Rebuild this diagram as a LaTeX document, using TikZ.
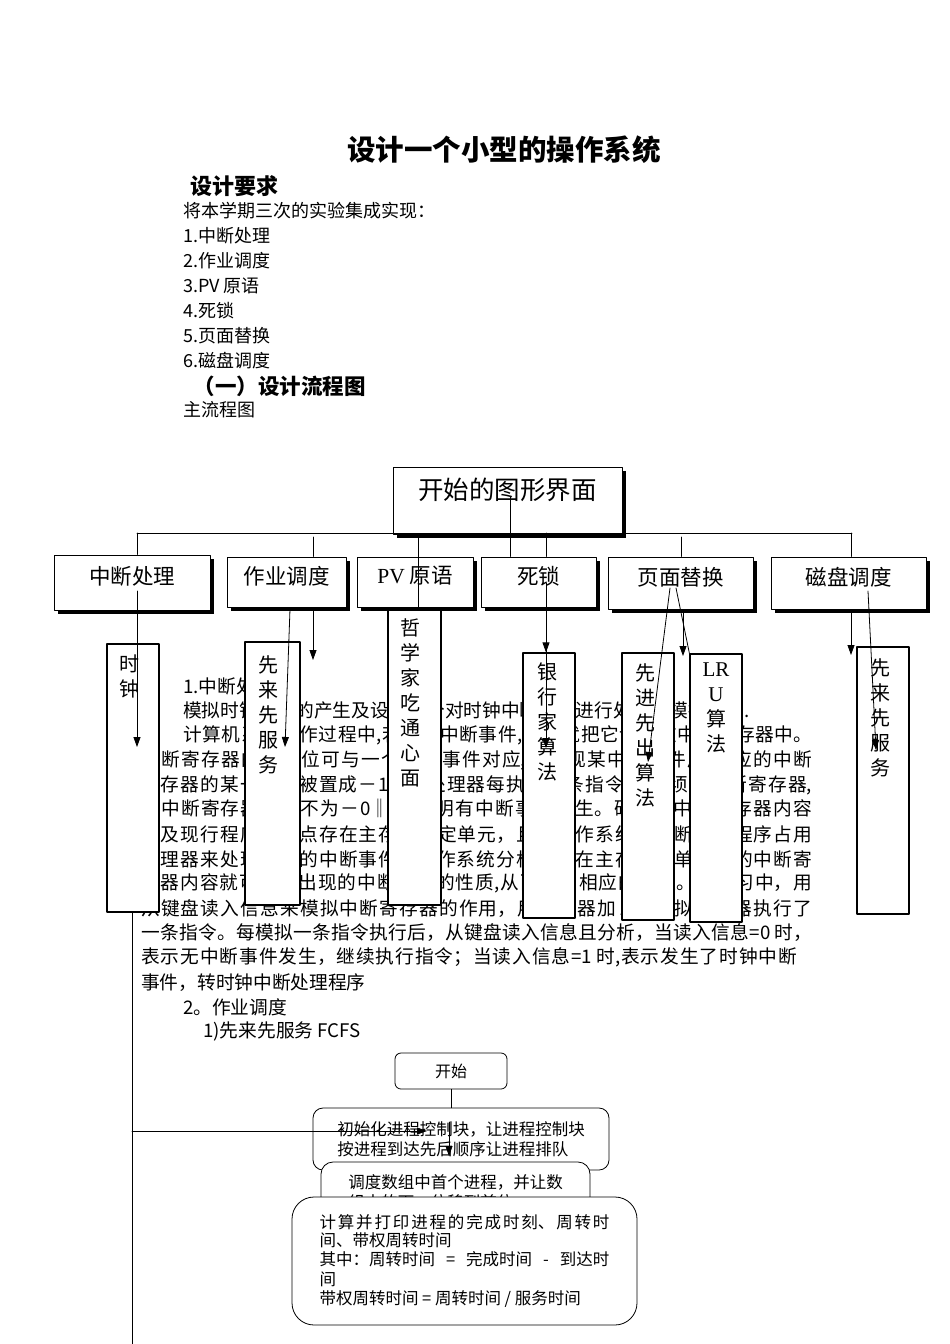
\documentclass[tikz,border=0pt]{standalone}
\usepackage{fontspec}
\setmainfont{Liberation Serif}
\newfontfamily\cjk{Noto Sans CJK SC}
\usetikzlibrary{positioning,shadows,arrows.meta}
\XeTeXlinebreaklocale "zh"
% 两端对齐的一行：段落模式下字间才有可伸长的空白
\newcommand\jline[2]{\parbox{#1}{\XeTeXlinebreakskip=0pt plus 1fil\parindent=0pt\parfillskip=0pt #2}}

\begin{document}
\begin{tikzpicture}[x=1pt, y=-1pt, line cap=round, line join=round,
  heading/.style={inner sep=0pt, font=\cjk\bfseries\fontsize{#1}{#1}\selectfont},
  listline/.style={anchor=west, inner sep=0pt, font=\cjk\fontsize{18}{18}\selectfont},
  bodyline/.style={anchor=west, inner sep=0pt, font=\cjk\fontsize{18.7}{18.7}\selectfont},
  shadowbox/.style={draw, line width=1pt, fill=white, inner sep=0pt,
    font=\cjk\fontsize{21.5}{21.5}\selectfont, text depth=14pt,
    drop shadow={shadow xshift=4pt, shadow yshift=-4pt, fill=black, opacity=1}},
  tallbox/.style={draw, line width=1.2pt, fill=white, inner sep=0pt, minimum width=52pt},
  vtext/.style={anchor=north, align=center, inner sep=0pt, font=\cjk\fontsize{20}{25}\selectfont},
  flowbox/.style={draw, line width=0.8pt, fill=white, inner sep=0pt, align=left,
    font=\cjk\fontsize{16.5}{19.5}\selectfont},
  link/.style={line width=0.8pt},
  arr/.style={line width=0.8pt, -{Triangle[length=10pt,width=7pt]}}]

  %% ==== 页头文字 ====
  \node[heading=28.5] (title) at (504,150) {设计一个小型的操作系统};
  \node[heading=22] (req) at (234,186) {设计要求};
  \node[listline] (intro) at (183,211) {将本学期三次的实验集成实现：};
  \node[listline] (item1) at (183,236) {1.中断处理};
  \node[listline] (item2) at (183,261) {2.作业调度};
  \node[listline] (item3) at (183,286) {3.PV 原语};
  \node[listline] (item4) at (183,311) {4.死锁};
  \node[listline] (item5) at (183,336) {5.页面替换};
  \node[listline] (item6) at (183,361) {6.磁盘调度};
  \node[heading=21.5, anchor=east] (sec1) at (366,386) {（一）设计流程图};
  \node[listline] (mainchart) at (183,410) {主流程图};

  %% ==== 正文（被竖框挡住一部分）====
  \node[bodyline] (p1) at (183,686.0) {1.中断处理};
  \node[bodyline] (p2) at (183,710.7) {模拟时钟中断的产生及设计一个对时钟中断事件进行处理的模拟程序.};
  \node[bodyline] (p3) at (183,735.4) {\jline{629pt}{计算机系统工作过程中,若出现中断事件,硬件就把它记录在中断寄存器中。}};
  \node[bodyline] (p4) at (141,760.1) {\jline{671pt}{中断寄存器的每一位可与一个中断事件对应,当出现某中断事件后,对应的中断}};
  \node[bodyline] (p5) at (141,784.8) {\jline{671pt}{寄存器的某一位就被置成－1‖。处理器每执行一条指令后,必须查中断寄存器,}};
  \node[bodyline] (p6) at (141,809.5) {\jline{671pt}{当中断寄存器内容不为－0‖时,说明有中断事件发生。硬件把中断寄存器内容}};
  \node[bodyline] (p7) at (141,834.2) {\jline{671pt}{以及现行程序的断点存在主存的固定单元，且让操作系统的中断处理程序占用}};
  \node[bodyline] (p8) at (141,858.9) {\jline{671pt}{处理器来处理出现的中断事件。操作系统分析保存在主存固定单元中的中断寄}};
  \node[bodyline] (p9) at (141,883.6) {\jline{671pt}{存器内容就可知道出现的中断事件的性质,从而作出相应的处理。本实习中，用}};
  \node[bodyline] (p10) at (141,908.3) {\jline{671pt}{从键盘读入信息来模拟中断寄存器的作用，用计数器加 1 来模拟处理器执行了}};
  \node[bodyline] (p11) at (141,933.0) {\jline{671pt}{一条指令。每模拟一条指令执行后，从键盘读入信息且分析，当读入信息=0 时，}};
  \node[bodyline] (p12) at (141,957.7) {\jline{656pt}{表示无中断事件发生，继续执行指令；当读入信息=1 时,表示发生了时钟中断}};
  \node[bodyline] (p13) at (141,982.4) {事件，转时钟中断处理程序};
  \node[bodyline] (p14) at (183,1007.1) {2。作业调度};
  \node[bodyline] (p15) at (203,1031.8) {1)先来先服务 FCFS};

  %% ==== 竖排子框 ====
  \node[tallbox, minimum height=268pt] (sz) at (133,778) {};
  \node[vtext] (szt) at (129,655) {时\\钟};
  \node[tallbox, minimum width=55pt, minimum height=263pt] (xl1) at (272.5,773.5) {};
  \node[vtext] (xl1t) at (268,655) {先\\来\\先\\服\\务};
  \node[tallbox, minimum width=53pt, minimum height=297pt] (zx) at (414.5,756.5) {};
  \node[vtext] (zxt) at (410,618) {哲\\学\\家\\吃\\通\\心\\面};
  \node[tallbox, minimum height=265pt] (yh) at (549,785.5) {};
  \node[vtext] (yht) at (547,663) {银\\行\\家\\算\\法};
  \node[tallbox, minimum height=267pt] (xj) at (648,786.5) {};
  \node[vtext] (xjt) at (645,663) {先\\进\\先\\出\\算\\法};
  \node[tallbox, minimum height=268pt] (lru) at (716,788) {};
  \node[vtext] (lrut) at (716,663) {{\rmfamily\fontsize{21}{25}\selectfont LR}\\{\rmfamily\fontsize{21}{25}\selectfont U}\\算\\法};
  \node[tallbox, minimum height=267pt] (xl2) at (883,780.5) {};
  \node[vtext] (xl2t) at (880,658) {先\\来\\先\\服\\务};

  %% ==== 顶框 + 第二排（带黑影）====
  \node[shadowbox, minimum width=229pt, minimum height=67pt, text depth=24pt,
        font=\cjk\fontsize{25.5}{25.5}\selectfont] (gui) at (507.5,500.5) {开始的图形界面};
  \node[shadowbox, minimum width=156pt, minimum height=55pt] (zd) at (132,582.5) {中断处理};
  \node[shadowbox, minimum width=119pt, minimum height=50pt] (zy) at (286.5,582) {作业调度};
  \node[shadowbox, minimum width=116pt, minimum height=50pt] (pv) at (415,582) {{\rmfamily PV} 原语};
  \node[shadowbox, minimum width=115pt, minimum height=50pt] (sl) at (538.5,582) {死锁};
  \node[shadowbox, minimum width=145pt, minimum height=52pt] (ym) at (680.5,583) {页面替换};
  \node[shadowbox, minimum width=155pt, minimum height=52pt] (cp) at (848.5,583) {磁盘调度};

  %% ==== 连线 ====
  \coordinate (busL) at (137,533);
  \coordinate (busR) at (852,533);
  \coordinate (tk2) at (313,537);
  \coordinate (tk3) at (418,535);
  \coordinate (tk4a) at (510,497);
  \coordinate (tk4) at (546,533);
  \coordinate (tk5) at (681,537);
  \coordinate (tk6) at (851,533);
  \draw[link] (busL) -- (busR);
  \draw[link] (busL) -- (busL |- zd.north);
  \draw[link] (tk2) -- (tk2 |- zy.north);
  \draw[link] (tk3) -- (tk3 |- pv.south);
  \draw[link] (tk4a) -- (tk4a |- sl.north);
  \draw[link] (tk4) -- (tk4 |- sl.north);
  \draw[link] (tk5) -- (tk5 |- ym.north);
  \draw[link] (tk6) -- (tk6 |- cp.north);

  \coordinate (zdin) at (137,591);
  \coordinate (szin) at (137,747);
  \coordinate (zyin) at (290,609);
  \coordinate (xl1in) at (285,747);
  \coordinate (zyend) at (313,660);
  \coordinate (slin) at (546,583);
  \coordinate (yhin) at (546,748);
  \coordinate (ymin1) at (670,588);
  \coordinate (xjin) at (648,762);
  \coordinate (ymin2) at (676,588);
  \coordinate (ymend) at (683,656);
  \coordinate (cpend) at (851,655);
  \coordinate (cpin) at (868,591);
  \coordinate (xl2in) at (876,750);
  \draw[arr] (zdin) -- (szin);
  \draw[arr] (zyin) -- (xl1in);
  \draw[arr] (tk2 |- zy.south) -- (zyend);
  \draw[arr] (slin) -- (yhin);
  \draw[arr] (tk4 |- sl.south) -- (tk4 |- yh.north);
  \draw[arr] (ymin1) -- (xjin);
  \draw[link] (ymin2) -- (lru.north west);
  \draw[arr] (ymend |- ym.south) -- (ymend);
  \draw[arr] (cpend |- cp.south) -- (cpend);
  \draw[arr] (cpin) -- (xl2in);

  %% ==== 先来先服务流程图 ====
  \node[flowbox, rounded corners=6pt, minimum width=112pt, minimum height=36pt,
        font=\cjk\fontsize{16}{16}\selectfont] (ks) at (451,1071) {开始};
  \node[flowbox, rounded corners=10pt, minimum width=296pt, minimum height=62pt] (cs) at (461,1139)
    {初始化进程控制块，让进程控制块\\按进程到达先后顺序让进程排队};
  \node[flowbox, rounded corners=12pt, minimum width=269pt, minimum height=60pt] (dd) at (455.5,1192)
    {调度数组中首个进程，并让数\\组中的下一位移到首位};
  \node[flowbox, rounded corners=22pt, minimum width=345pt, minimum height=128pt] (js) at (464.5,1261)
    {\jline{290pt}{计算并打印进程的完成时刻、周转时}\\间、带权周转时间\\
     \makebox[290pt][s]{其中：周转时间\hfill{}=\hfill{}完成时间\hfill{}-\hfill{}到达时}\\间\\带权周转时间 = 周转时间 / 服务时间};

  \coordinate (pgbot) at (132,1344);
  \coordinate (hj) at (132,1131);
  \coordinate (csin) at (427,1131);
  \coordinate (cstop) at (449,1122);
  \coordinate (csbot) at (449,1156);
  \draw[link] (sz.south -| pgbot) -- (pgbot);
  \draw[arr] (hj) -- (csin);
  \draw[link] (ks) -- (ks |- cs.north);
  \draw[arr] (cstop) -- (csbot);

  % 钉死画布
  \pgfresetboundingbox
  \path[use as bounding box] (0,0) rectangle (950,1344);
\end{tikzpicture}
\end{document}
